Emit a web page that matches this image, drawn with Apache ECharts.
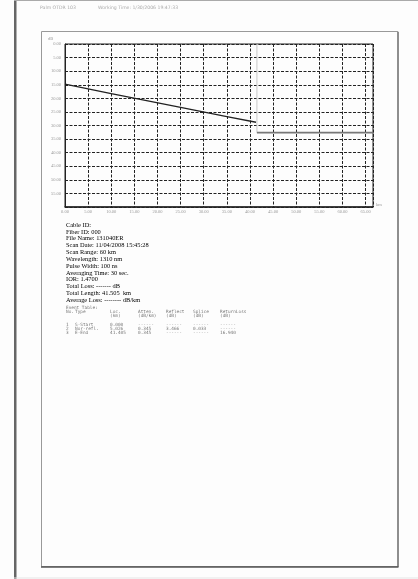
<!DOCTYPE html>
<html><head><meta charset="utf-8">
<script src="https://cdn.jsdelivr.net/npm/echarts@6/dist/echarts.min.js"></script>
<style>html,body{margin:0;padding:0;background:#fdfdfd}#c{width:418px;height:579px}</style>
</head><body><div id="c"></div>
<script>
// ---- data ----
const headerTexts = ['Palm OTDR 103', 'Working Time: 1/30/2006 19:47:33'];
const traceKm = [0, 10, 25, 35, 41.3];
const traceDb = [14.8, 18.3, 23.3, 26.7, 28.8];
const cursorKm = 41.5;
const floorDb = 32.6;
const kmTicks = [0, 5, 10, 15, 20, 25, 30, 35, 40, 45, 50, 55, 60, 65];
const dbTicks = [0, 5, 10, 15, 20, 25, 30, 35, 40, 45, 50, 55];
const infoLines = [
  'Cable ID:',
  'Fiber ID: 000',
  'File Name: 131040ER',
  'Scan Date: 11/04/2008 15:45:28',
  'Scan Range: 60 km',
  'Wavelength: 1310 nm',
  'Pulse Width: 100 ns',
  'Averaging Time: 30 sec.',
  'IOR: 1.4700',
  'Total Loss: ------- dB',
  'Total Length: 41.505  km',
  'Average Loss: -------- dB/km'
];
const eventTitle = 'Event Table:';
const eventHeader = ['No.', 'Type', 'Loc.', 'Atten.', 'Reflect', 'Splice', 'ReturnLoss'];
const eventUnits = ['', '', '(km)', '(dB/km)', '(dB)', '(dB)', '(dB)'];
const eventRows = [
  ['1', 'S-Start', '0.000', '------', '------', '------', '------'],
  ['2', 'Nor-refl.', '5.026', '0.345', '3.466', '0.033', '------'],
  ['3', 'E-End', '41.405', '0.345', '------', '------', '16.940']
];

// ---- layout ----
const W = 418, H = 579;
const G = {left: 65, top: 44, right: 373, bottom: 207};
const axisMaxKm = 66.6;
const colX = [66, 75, 110, 138, 166, 193, 220];

const chart = echarts.init(document.getElementById('c'), null, {renderer: 'canvas'});
const gfx = [];
// left dark bar, top and bottom edges
gfx.push({type: 'rect', shape: {x: 14, y: 0, width: 2.5, height: H}, style: {fill: '#666'}, z: 1});
gfx.push({type: 'rect', shape: {x: 14, y: 0, width: W - 14, height: 1}, style: {fill: '#aaa'}, z: 1});
gfx.push({type: 'rect', shape: {x: 14, y: 577.5, width: W - 14, height: 1}, style: {fill: '#e6e6e6'}, z: 1});
// page box
gfx.push({type: 'rect', shape: {x: 41.5, y: 31.5, width: 356.5, height: 535}, style: {fill: '#fdfdfd', stroke: '#999', lineWidth: 1}, z: -1});
gfx.push({type: 'line', shape: {x1: 398, y1: 32, x2: 398, y2: 567}, style: {stroke: '#666', lineWidth: 1.2}, z: 1});
gfx.push({type: 'line', shape: {x1: 41, y1: 567, x2: 398.5, y2: 567}, style: {stroke: '#555', lineWidth: 1.4}, z: 1});
// header
gfx.push({type: 'text', style: {x: 40, y: 8, text: headerTexts[0], fill: '#aaa', font: '4.6px "DejaVu Sans"', verticalAlign: 'middle'}, z: 2});
gfx.push({type: 'text', style: {x: 98, y: 8, text: headerTexts[1], fill: '#aaa', font: '4.6px "DejaVu Sans"', verticalAlign: 'middle'}, z: 2});
// dB unit
gfx.push({type: 'text', style: {x: 48, y: 39, text: 'dB', fill: '#999', font: '4.5px "Liberation Serif"', verticalAlign: 'middle'}, z: 2});
// info lines
infoLines.forEach((t, i) => {
  gfx.push({type: 'text', style: {x: 66, y: 225 + i * 6.85, text: t, fill: '#000', font: '6.4px "Liberation Serif"', verticalAlign: 'middle'}, z: 2});
});
// event table
const mono = '4.4px "DejaVu Sans Mono"';
gfx.push({type: 'text', style: {x: 66, y: 308, text: eventTitle, fill: '#777', font: mono, verticalAlign: 'middle'}, z: 2});
const rowsAll = [[eventHeader, 312.3], [eventUnits, 316]].concat(eventRows.map((r, i) => [r, 325 + i * 4.1]));
rowsAll.forEach(([row, y]) => {
  row.forEach((t, j) => {
    if (!t) return;
    gfx.push({type: 'text', style: {x: colX[j], y: y, text: t, fill: '#777', font: mono, verticalAlign: 'middle'}, z: 2});
  });
});

const split = {show: true, lineStyle: {color: '#222', width: 1, type: [3, 1.5]}};
chart.setOption({
  animation: false,
  backgroundColor: '#fdfdfd',
  grid: {left: G.left, top: G.top, width: G.right - G.left, height: G.bottom - G.top, show: true, borderColor: '#222', borderWidth: 1, backgroundColor: 'transparent'},
  xAxis: {
    type: 'value', min: 0, max: axisMaxKm, interval: 5,
    name: 'km', nameLocation: 'end', nameGap: 3,
    nameTextStyle: {color: '#999', fontSize: 4.5, fontFamily: 'Liberation Serif', verticalAlign: 'bottom'},
    axisLine: {show: true, onZero: false, lineStyle: {color: '#222', width: 1.5}},
    axisTick: {show: false},
    splitLine: split,
    axisLabel: {color: '#999', fontSize: 4.5, fontFamily: 'Liberation Serif', margin: 2,
      formatter: v => kmTicks.indexOf(Math.round(v * 100) / 100) >= 0 ? v.toFixed(2) : ''}
  },
  yAxis: {
    type: 'value', inverse: true, min: 0, max: 60, interval: 5,
    axisLine: {show: true, onZero: false, lineStyle: {color: '#222', width: 1}},
    axisTick: {show: false},
    splitLine: split,
    axisLabel: {color: '#999', fontSize: 4.5, fontFamily: 'Liberation Serif', margin: 4,
      formatter: v => dbTicks.indexOf(v) >= 0 ? v.toFixed(2) : ''}
  },
  series: [
    {type: 'line', data: traceKm.map((k, i) => [k, traceDb[i]]), showSymbol: false,
     lineStyle: {color: '#222', width: 1.3}, z: 5},
    {type: 'line', data: [[cursorKm, 0], [cursorKm, floorDb]], showSymbol: false,
     lineStyle: {color: '#c8c8c8', width: 1}, z: 4},
    {type: 'line', data: [[cursorKm, floorDb], [axisMaxKm, floorDb]], showSymbol: false,
     lineStyle: {color: '#777', width: 1.8}, z: 4}
  ],
  graphic: {elements: gfx}
});
</script></body></html>
